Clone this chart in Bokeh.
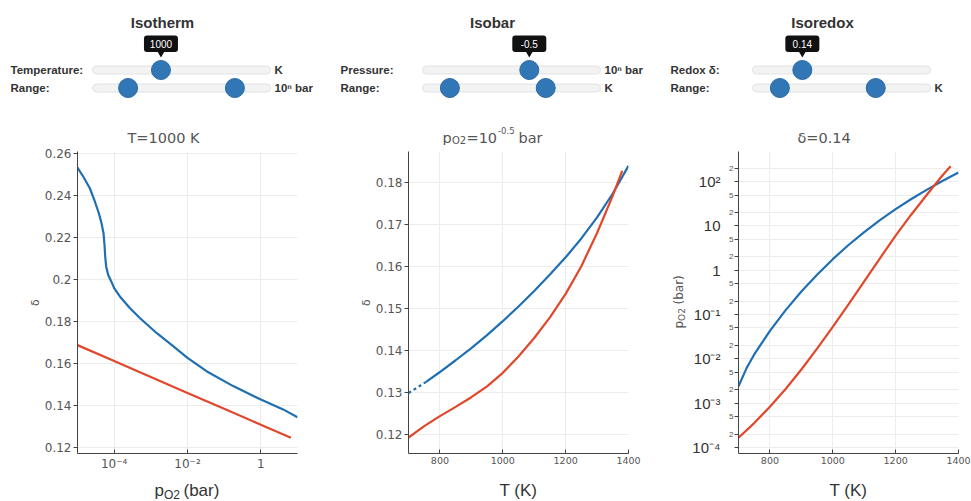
import math
from bokeh.plotting import figure
from bokeh.layouts import row, column
from bokeh.models import Range1d, FixedTicker, LogAxis, CustomJSTickFormatter
from bokeh.core.properties import value
from bokeh.embed import file_html
from bokeh.resources import INLINE

# ---------------- data ----------------
# Isotherm (T = 1000 K): delta vs pO2
isotherm_T = 1000
isotherm_p_blue = [1e-5, 1.43e-5, 2.17e-5, 2.97e-5, 3.82e-5, 4.52e-5, 5.12e-5, 5.45e-5,
                   5.69e-5, 6.05e-5, 6.85e-5, 8.45e-5, 1e-4, 1.43e-4, 2.67e-4, 5.01e-4,
                   1.43e-3, 4.06e-3, 1e-2, 3.30e-2, 0.176, 1.0, 4.06, 10.0]
isotherm_delta_blue = [0.2533, 0.2491, 0.2435, 0.2372, 0.2316, 0.2269, 0.2221, 0.2166,
                       0.2111, 0.2063, 0.2023, 0.1989, 0.1960, 0.1920, 0.1865, 0.1817,
                       0.1746, 0.1683, 0.1627, 0.1564, 0.1493, 0.1429, 0.1382, 0.1345]
isotherm_p_red = [1e-5, 1e-4, 1e-3, 1e-2, 1e-1, 1.0, 6.6]
isotherm_delta_red = [0.1688, 0.1612, 0.1536, 0.1460, 0.1385, 0.1309, 0.1247]

# Isobar (pO2 = 10^-0.5 bar): delta vs T
isobar_T_blue_gap = [700, 730, 755]
isobar_delta_blue_gap = [0.1298, 0.1312, 0.1324]
isobar_T_blue = [755, 800, 850, 900, 950, 1000, 1050, 1100, 1150, 1200, 1250, 1300, 1350, 1400]
isobar_delta_blue = [0.1324, 0.1348, 0.1376, 0.1405, 0.1436, 0.1469, 0.1504, 0.1541,
                     0.1580, 0.1621, 0.1666, 0.1716, 0.1773, 0.1839]
isobar_T_red = [700, 750, 800, 850, 900, 950, 1000, 1050, 1100, 1150, 1200, 1250, 1300, 1350, 1380]
isobar_delta_red = [0.1192, 0.1219, 0.1243, 0.1265, 0.1288, 0.1314, 0.1346, 0.1385,
                    0.1429, 0.1478, 0.1534, 0.1600, 0.1679, 0.1768, 0.1827]

# Isoredox (delta = 0.14): pO2 vs T
isoredox_T_blue = [700, 725, 750, 800, 850, 900, 950, 1000, 1050, 1100, 1150, 1200, 1250,
                   1300, 1350, 1400]
isoredox_p_blue = [2.40e-3, 6.03e-3, 1.26e-2, 4.27e-2, 0.126, 0.331, 0.794, 1.78, 3.72,
                   7.24, 13.5, 24.0, 40.7, 66.1, 105.0, 162.0]
isoredox_T_red = [700, 750, 800, 850, 900, 950, 1000, 1050, 1100, 1150, 1200, 1250, 1300, 1350, 1375]
isoredox_p_red = [1.66e-4, 3.55e-4, 8.32e-4, 2.09e-3, 5.75e-3, 1.70e-2, 5.25e-2, 0.170, 0.562,
                  1.86, 6.03, 18.2, 51.3, 141.0, 224.0]

# axis ticks
isotherm_p_ticks = [1e-4, 1e-2, 1.0]
isotherm_p_grid = [1e-4, 1e-2, 1.0, 10.0]
isotherm_delta_ticks = [0.12, 0.14, 0.16, 0.18, 0.20, 0.22, 0.24, 0.26]
isobar_delta_ticks = [0.12, 0.13, 0.14, 0.15, 0.16, 0.17, 0.18]
T_ticks = [800, 1000, 1200, 1400]
isoredox_p_major = [1e-4, 1e-3, 1e-2, 1e-1, 1.0, 10.0, 100.0]
isoredox_p_minor = [2e-4, 5e-4, 2e-3, 5e-3, 2e-2, 5e-2, 0.2, 0.5, 2.0, 5.0, 20.0, 50.0, 200.0]

# slider settings
temperature_value, temperature_min, temperature_max = 1000, 500, 1800
isotherm_range, isotherm_range_min, isotherm_range_max = (-5, 1), -7, 3
pressure_value, pressure_min, pressure_max = -0.5, -5, 2.5
temp_range, temp_range_min, temp_range_max = (700, 1400), 500, 1800
redox_value, redox_min, redox_max = 0.14, 0.0, 0.5

# ---------------- style ----------------
BLUE = "#1f6fb2"
RED = "#e1472b"
THUMB = "#3177b6"
GRID = "#ececec"
AXIS = "#444444"
SANS = value("Liberation Sans")
DJV = value("DejaVu Sans")

HEADER_TOP, HEADER_BOTTOM = 0, 145
PLOT_BOTTOM = 475
FOOT_BOTTOM = 500


def slider_x(v, vmin, vmax, x0, x1):
    return x0 + (v - vmin) / (vmax - vmin) * (x1 - x0)


def bare(x0, width, y0, y1):
    f = figure(width=width, height=y1 - y0, x_range=Range1d(x0, x0 + width),
               y_range=Range1d(y1, y0), toolbar_location=None, output_backend="svg",
               x_axis_location=None, y_axis_location=None, min_border=0,
               outline_line_color=None, background_fill_color="white",
               frame_align=False)
    f.grid.visible = False
    return f


def header(x0, width, title, rows, tip, plot_title):
    h = bare(x0, width, HEADER_TOP, HEADER_BOTTOM)
    tx0, tx1 = x0 + 92, x0 + 270
    cx = x0 + 162
    h.text(x=[cx], y=[21.5], text=[title], text_font=SANS, text_font_style="bold",
           text_font_size="15px", text_align="center", text_baseline="middle",
           text_color="#333333")
    for r in rows:
        y = r["y"]
        h.text(x=[x0 + 10], y=[y], text=[r["label"]], text_font=SANS,
               text_font_style="bold", text_font_size="11.5px", text_align="left",
               text_baseline="middle", text_color="#333333")
        if r["unit"]:
            h.text(x=[x0 + 274], y=[y], text=[r["unit"]], text_font=SANS,
                   text_font_style="bold", text_font_size="11.5px", text_align="left",
                   text_baseline="middle", text_color="#333333")
        h.quad(left=[tx0], right=[tx1], top=[y - 4], bottom=[y + 4],
               fill_color="#f3f3f3", line_color="#e2e2e2", border_radius=4)
        xs = [slider_x(v, r["vmin"], r["vmax"], tx0, tx1) for v in r["values"]]
        h.scatter(x=xs, y=[y] * len(xs), size=19, marker="circle",
                  fill_color=THUMB, line_color="#2b6aa3", line_width=1)
        if r.get("tip"):
            tx = xs[0]
            h.quad(left=[tx - 17], right=[tx + 17], top=[35], bottom=[51.5],
                   fill_color="#111111", line_color=None, border_radius=3)
            h.scatter(x=[tx], y=[53], marker="inverted_triangle", size=7,
                      fill_color="#111111", line_color=None)
            h.text(x=[tx], y=[43.5], text=[tip], text_font=SANS, text_font_size="10px",
                   text_align="center", text_baseline="middle", text_color="white")
    for (px, py, t, size) in plot_title:
        h.text(x=[px], y=[py], text=[t], text_font=DJV, text_font_size=size,
               text_align="left", text_baseline="alphabetic", text_color="#555555")
    return h


def footer(x0, width, parts):
    f = bare(x0, width, PLOT_BOTTOM, FOOT_BOTTOM)
    for (px, py, t, size) in parts:
        f.text(x=[px], y=[py], text=[t], text_font=SANS, text_font_size=size,
               text_align="left", text_baseline="middle", text_color="#333333")
    return f


def style_axes(p, ylabel=None):
    for ax in p.xaxis:
        ax.axis_line_color = AXIS
        ax.major_tick_line_color = AXIS
        ax.major_tick_in = 4
        ax.major_tick_out = 0
        ax.minor_tick_line_color = None
        ax.major_label_standoff = 3
        ax.major_label_text_font = "DejaVu Sans"
        ax.major_label_text_font_size = "9.5px"
        ax.major_label_text_color = "#555555"
    ax = p.yaxis[0]
    ax.axis_line_color = AXIS
    ax.major_tick_line_color = AXIS
    ax.major_tick_in = 0
    ax.major_tick_out = 4
    ax.minor_tick_line_color = None
    ax.major_label_standoff = 2
    ax.major_label_text_font = "DejaVu Sans"
    ax.major_label_text_font_size = "12px"
    ax.major_label_text_color = "#555555"
    if ylabel:
        ax.axis_label = ylabel
        ax.axis_label_standoff = 0
        ax.axis_label_text_font = "DejaVu Sans"
        ax.axis_label_text_font_size = "11px"
        ax.axis_label_text_font_style = "normal"
        ax.axis_label_text_color = "#555555"
    p.grid.grid_line_color = GRID
    p.grid.grid_line_width = 1


def plot_fig(x_range, y_range, x_type, y_type, left, right):
    return figure(frame_width=220, frame_height=302, x_range=x_range, y_range=y_range,
                  x_axis_type=x_type, y_axis_type=y_type, toolbar_location=None,
                  output_backend="svg", min_border_left=left, min_border_right=right,
                  min_border_top=6, min_border_bottom=22, outline_line_color=None,
                  background_fill_color="white", frame_align=False)


pow_fmt = CustomJSTickFormatter(code="""
const sup = {"-":"\u207b","0":"\u2070","1":"\u00b9","2":"\u00b2","3":"\u00b3","4":"\u2074",
             "5":"\u2075","6":"\u2076","7":"\u2077","8":"\u2078","9":"\u2079"};
const e = Math.round(Math.log10(tick));
if (e == 0) return "1";
if (e == 1) return "10";
return "10" + String(e).split("").map(c => sup[c]).join("");
""")
minor_fmt = CustomJSTickFormatter(code="""
const e = Math.floor(Math.log10(tick) + 1e-9);
const m = Math.round(tick / Math.pow(10, e));
return m == 1 ? "" : String(m);
""")

# ---------------- panel 1: isotherm ----------------
h1 = header(0, 330, "Isotherm", [
    dict(y=69.5, label="Temperature:", unit="K", values=[temperature_value],
         vmin=temperature_min, vmax=temperature_max, tip=True),
    dict(y=87.5, label="Range:", unit="10\u207f bar", values=list(isotherm_range),
         vmin=isotherm_range_min, vmax=isotherm_range_max),
], str(temperature_value), [(127, 137, "T=%d K" % isotherm_T, "14.5px")])

p1 = plot_fig(Range1d(1e-5, 10), Range1d(0.1172, 0.2610), "log", "linear", 77, 33)
p1.line(isotherm_p_blue, isotherm_delta_blue, line_color=BLUE, line_width=2.2)
p1.line(isotherm_p_red, isotherm_delta_red, line_color=RED, line_width=2.2)
style_axes(p1, "\u03b4")
p1.xaxis.ticker = FixedTicker(ticks=isotherm_p_ticks)
p1.xaxis.formatter = pow_fmt
p1.xaxis.major_label_text_font_size = "12px"
p1.xgrid.ticker = FixedTicker(ticks=isotherm_p_grid)
p1.yaxis.ticker = FixedTicker(ticks=isotherm_delta_ticks)
f1 = footer(0, 330, [(154, 490, "p", "17px"), (163.5, 494, "O2", "12px"),
                     (183, 490, "(bar)", "17px")])
col1 = column(h1, p1, f1)

# ---------------- panel 2: isobar ----------------
h2 = header(330, 330, "Isobar", [
    dict(y=69.5, label="Pressure:", unit="10\u207f bar", values=[pressure_value],
         vmin=pressure_min, vmax=pressure_max, tip=True),
    dict(y=87.5, label="Range:", unit="K", values=list(temp_range),
         vmin=temp_range_min, vmax=temp_range_max),
], str(pressure_value), [
    (442, 137, "p", "14.5px"), (451.5, 140, "O2", "10px"), (466, 137, "=10", "14.5px"),
    (497.5, 129.5, "-0.5", "8.5px"), (518, 137, "bar", "14.5px")])

p2 = plot_fig(Range1d(700, 1400), Range1d(0.1154, 0.1873), "linear", "linear", 78, 32)
p2.line(isobar_T_blue_gap, isobar_delta_blue_gap, line_color=BLUE, line_width=2.2,
        line_dash="3 3")
p2.line(isobar_T_blue, isobar_delta_blue, line_color=BLUE, line_width=2.2)
p2.line(isobar_T_red, isobar_delta_red, line_color=RED, line_width=2.2)
style_axes(p2, "\u03b4")
p2.xaxis.ticker = FixedTicker(ticks=T_ticks)
p2.yaxis.ticker = FixedTicker(ticks=isobar_delta_ticks)
f2 = footer(330, 330, [(499, 490, "T (K)", "17px")])
col2 = column(h2, p2, f2)

# ---------------- panel 3: isoredox ----------------
h3 = header(660, 311, "Isoredox", [
    dict(y=69.5, label="Redox \u03b4:", unit="", values=[redox_value],
         vmin=redox_min, vmax=redox_max, tip=True),
    dict(y=87.5, label="Range:", unit="K", values=list(temp_range),
         vmin=temp_range_min, vmax=temp_range_max),
], str(redox_value), [(797, 137, "\u03b4=%.2f" % redox_value, "14.5px")])

side = bare(660, 28, HEADER_BOTTOM, PLOT_BOTTOM)
for (px, py, t, size) in [(678, 328, "p", "12px"), (681, 320.4, "O2", "9px"),
                          (678, 304, "(bar)", "12px")]:
    side.text(x=[px], y=[py], text=[t], text_font=DJV, text_font_size=size,
              text_align="left", text_baseline="middle", text_color="#555555",
              angle=math.pi / 2)

p3 = plot_fig(Range1d(700, 1400), Range1d(7.3e-5, 480), "linear", "log", 50, 13)
p3.line(isoredox_T_blue, isoredox_p_blue, line_color=BLUE, line_width=2.2)
p3.line(isoredox_T_red, isoredox_p_red, line_color=RED, line_width=2.2)
style_axes(p3)
p3.xaxis.ticker = FixedTicker(ticks=T_ticks)
all_ticks = sorted(isoredox_p_major + isoredox_p_minor)
p3.yaxis.ticker = FixedTicker(ticks=all_ticks)
p3.yaxis.formatter = minor_fmt
p3.yaxis.major_label_text_font = "Liberation Sans"
p3.yaxis.major_label_text_font_size = "8px"
p3.yaxis.major_label_standoff = 1
outer = LogAxis(ticker=FixedTicker(ticks=isoredox_p_major), formatter=pow_fmt,
                axis_line_color=None, major_tick_line_color=None,
                minor_tick_line_color=None, major_label_standoff=0,
                major_label_text_font="Liberation Sans", major_label_text_font_size="15px",
                major_label_text_color="#333333")
p3.add_layout(outer, "left")
f3 = footer(660, 311, [(829, 490, "T (K)", "17px")])
col3 = column(h3, row(side, p3), f3)

layout = row(col1, col2, col3)
open("out.html", "w").write(file_html(layout, INLINE))
